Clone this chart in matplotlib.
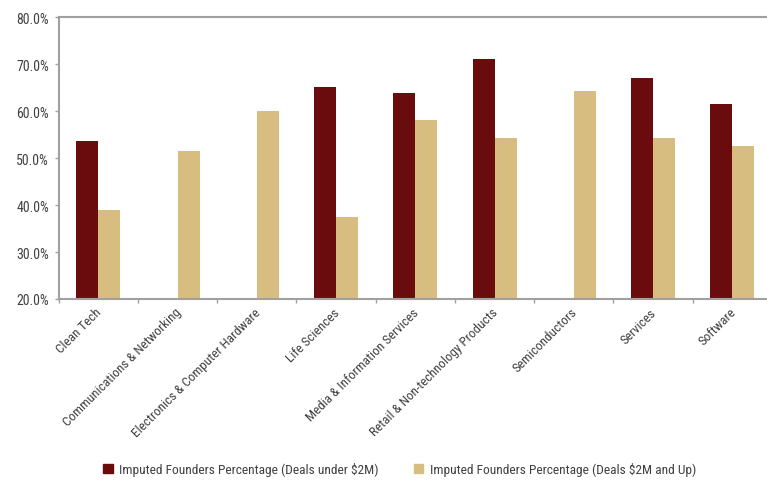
import numpy as np
import matplotlib
matplotlib.use("Agg")
from matplotlib import pyplot as plt
from matplotlib.ticker import FuncFormatter, MultipleLocator, FixedLocator, NullFormatter
from matplotlib.patches import Patch
from matplotlib.transforms import ScaledTranslation

plt.rcParams['font.family'] = ['Roboto Condensed', 'DejaVu Sans']

categories = ["Clean Tech", "Communications & Networking", "Electronics & Computer Hardware",
              "Life Sciences", "Media & Information Services", "Retail & Non-technology Products",
              "Semiconductors", "Services", "Software"]
under_2m = [53.6, np.nan, np.nan, 65.2, 63.9, 71.1, np.nan, 67.0, 61.5]
over_2m = [38.9, 51.5, 60.1, 37.5, 58.1, 54.3, 64.2, 54.3, 52.6]
series_names = ["Imputed Founders Percentage (Deals under $2M)",
                "Imputed Founders Percentage (Deals $2M and Up)"]

dark = "#6a0b0e"
light = "#d7be80"
grey = "#a0a0a0"
text_col = "#404040"

fig = plt.figure(figsize=(7.67, 4.81), dpi=100)
ax = fig.add_axes([0.0765, 0.3763, 0.930, 0.5857])

x = np.arange(len(categories))
w = 0.277
ax.bar(x - w / 2, under_2m, w, color=dark)
ax.bar(x + w / 2, over_2m, w, color=light)

ax.set_xlim(-0.5, len(categories) - 0.5)
ax.set_ylim(20, 80)
ax.yaxis.set_major_locator(MultipleLocator(10))
ax.yaxis.set_major_formatter(FuncFormatter(lambda v, p: "%.1f%%" % v))

# category labels centred, tick marks on the boundaries
ax.set_xticks(x)
ax.set_xticklabels(categories, rotation=45, ha="right", rotation_mode="default", fontsize=9.5)
ax.tick_params(axis="x", which="major", length=0, pad=6)
ax.xaxis.set_minor_locator(FixedLocator(np.arange(-0.5, len(categories), 1.0)))
ax.xaxis.set_minor_formatter(NullFormatter())
ax.tick_params(axis="x", which="minor", length=3, width=1, color=grey)
ax.tick_params(axis="y", length=3, width=1, color=grey, pad=4, labelsize=10)
ax.tick_params(labelcolor=text_col)

# nudge the slanted labels to the right like the original
shift = ScaledTranslation(6 / 100, 2 / 100, fig.dpi_scale_trans)
for lab in ax.get_xticklabels():
    lab.set_transform(lab.get_transform() + shift)

for s in ax.spines.values():
    s.set_color(grey)
    s.set_linewidth(1.5)

handles = [Patch(color=dark), Patch(color=light)]
fig.legend(handles, series_names, loc="center", bbox_to_anchor=(0.521, 0.022),
           ncol=2, frameon=False, fontsize=9.6, labelcolor=text_col,
           handlelength=0.7, handleheight=0.7, handletextpad=0.5, columnspacing=2.6)

fig.savefig("out.png", dpi=100)
